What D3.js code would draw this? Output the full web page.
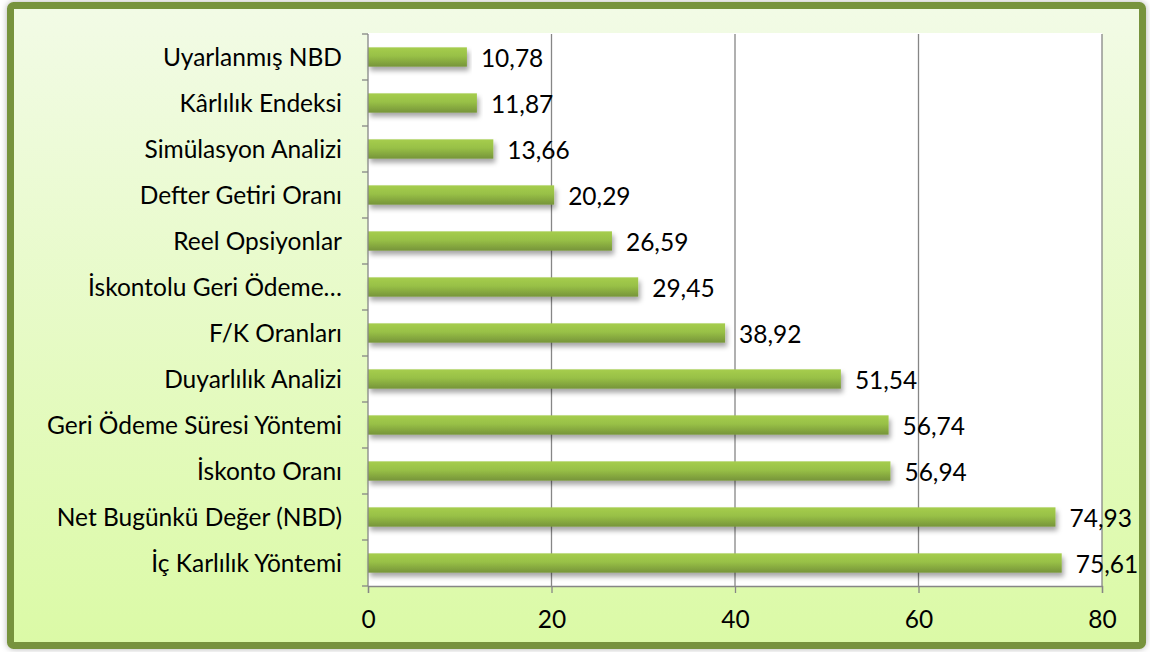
<!DOCTYPE html>
<html>
<head>
<meta charset="utf-8">
<script src="https://cdn.jsdelivr.net/npm/d3@7"></script>
<style>
  body { margin: 0; background: #fff; }
  text { font-family: Lato, "Open Sans", sans-serif; fill: #000; }
</style>
</head>
<body>
<svg id="chart" width="1150" height="652"></svg>
<script>
var categories = ["Uyarlanmış NBD", "Kârlılık Endeksi", "Simülasyon Analizi", "Defter Getiri Oranı",
  "Reel Opsiyonlar", "İskontolu Geri Ödeme…", "F/K Oranları", "Duyarlılık Analizi",
  "Geri Ödeme Süresi Yöntemi", "İskonto Oranı", "Net Bugünkü Değer (NBD)", "İç Karlılık Yöntemi"];
var values = [10.78, 11.87, 13.66, 20.29, 26.59, 29.45, 38.92, 51.54, 56.74, 56.94, 74.93, 75.61];
var xTicks = [0, 20, 40, 60, 80];

var svg = d3.select("#chart");
var defs = svg.append("defs");

var bg = defs.append("linearGradient").attr("id", "bg").attr("x1", 0).attr("y1", 0).attr("x2", 0).attr("y2", 1);
bg.append("stop").attr("offset", "0%").attr("stop-color", "#f2fbe6");
bg.append("stop").attr("offset", "100%").attr("stop-color", "#dbfaa6");

var barGrad = defs.append("linearGradient").attr("id", "bar").attr("x1", 0).attr("y1", 0).attr("x2", 0).attr("y2", 1);
barGrad.append("stop").attr("offset", "0%").attr("stop-color", "#a6cd4e");
barGrad.append("stop").attr("offset", "45%").attr("stop-color", "#98c046");
barGrad.append("stop").attr("offset", "100%").attr("stop-color", "#76943a");

var shadow = defs.append("filter").attr("id", "shadow").attr("x", "-5%").attr("y", "-50%").attr("width", "110%").attr("height", "220%");
shadow.append("feDropShadow").attr("dx", 2).attr("dy", 4).attr("stdDeviation", 2.5)
  .attr("flood-color", "#000").attr("flood-opacity", 0.35);

var frameShadow = defs.append("filter").attr("id", "fshadow").attr("x", "-2%").attr("y", "-2%").attr("width", "104%").attr("height", "104%");
frameShadow.append("feDropShadow").attr("dx", 0).attr("dy", 0).attr("stdDeviation", 3)
  .attr("flood-color", "#000").attr("flood-opacity", 0.3);

// outer frame
svg.append("rect")
  .attr("x", 10.5).attr("y", 5.5).attr("width", 1132).attr("height", 640)
  .attr("rx", 3)
  .attr("fill", "url(#bg)").attr("stroke", "#77933c").attr("stroke-width", 7)
  .attr("filter", "url(#fshadow)");

var plotLeft = 368, plotRight = 1102, plotTop = 34, plotBottom = 586;
var fontSize = "24.5px";

var x = d3.scaleLinear().domain([0, 80]).range([plotLeft, plotRight]);
var y = d3.scaleBand().domain(categories).range([plotTop, plotBottom]).paddingInner(0.58).paddingOuter(0.29);

// plot area
svg.append("rect")
  .attr("x", plotLeft).attr("y", plotTop - 1).attr("width", plotRight - plotLeft).attr("height", plotBottom - plotTop + 1)
  .attr("fill", "#fff");

// gridlines
svg.append("g").selectAll("line")
  .data(xTicks.filter(function(d) { return d > 0; }))
  .enter().append("line")
  .attr("x1", function(d) { return x(d); }).attr("x2", function(d) { return x(d); })
  .attr("y1", plotTop).attr("y2", plotBottom)
  .attr("stroke", "#868686").attr("stroke-width", 1.3);

// bars
svg.append("g").selectAll("rect")
  .data(values)
  .enter().append("rect")
  .attr("x", x(0))
  .attr("y", function(d, i) { return y(categories[i]); })
  .attr("width", function(d) { return x(d) - x(0); })
  .attr("height", y.bandwidth())
  .attr("fill", "url(#bar)")
  .attr("filter", "url(#shadow)");

// value labels
svg.append("g").selectAll("text")
  .data(values)
  .enter().append("text")
  .attr("x", function(d) { return x(d) + 14; })
  .attr("y", function(d, i) { return y(categories[i]) + y.bandwidth() / 2 + 1; })
  .attr("dy", "0.35em")
  .style("font-size", fontSize)
  .text(function(d) { return d3.format(".2f")(d).replace(".", ","); });

// y axis
var bandEdges = d3.range(categories.length + 1).map(function(i) { return plotTop + i * (plotBottom - plotTop) / categories.length; });
var yAxis = svg.append("g");
yAxis.append("line").attr("x1", plotLeft).attr("x2", plotLeft).attr("y1", plotTop).attr("y2", plotBottom)
  .attr("stroke", "#868686").attr("stroke-width", 1.3);
yAxis.selectAll("line.tick").data(bandEdges).enter().append("line").attr("class", "tick")
  .attr("x1", plotLeft - 6).attr("x2", plotLeft).attr("y1", function(d) { return d; }).attr("y2", function(d) { return d; })
  .attr("stroke", "#868686").attr("stroke-width", 1.3);
yAxis.selectAll("text").data(categories).enter().append("text")
  .attr("x", plotLeft - 26)
  .attr("y", function(d) { return y(d) + y.bandwidth() / 2; })
  .attr("dy", "0.35em")
  .attr("text-anchor", "end")
  .style("font-size", fontSize)
  .text(function(d) { return d; });

// x axis
var xAxis = svg.append("g").attr("transform", "translate(0," + plotBottom + ")")
  .call(d3.axisBottom(x).tickValues(xTicks).tickSize(7).tickPadding(18).tickFormat(d3.format("d")));
xAxis.select(".domain").attr("stroke", "#868686").attr("stroke-width", 1.3);
xAxis.selectAll(".tick line").attr("stroke", "#868686").attr("stroke-width", 1.3);
xAxis.selectAll(".tick text").style("font-size", fontSize).style("font-family", "Lato, 'Open Sans', sans-serif").attr("fill", "#000");
</script>
</body>
</html>
